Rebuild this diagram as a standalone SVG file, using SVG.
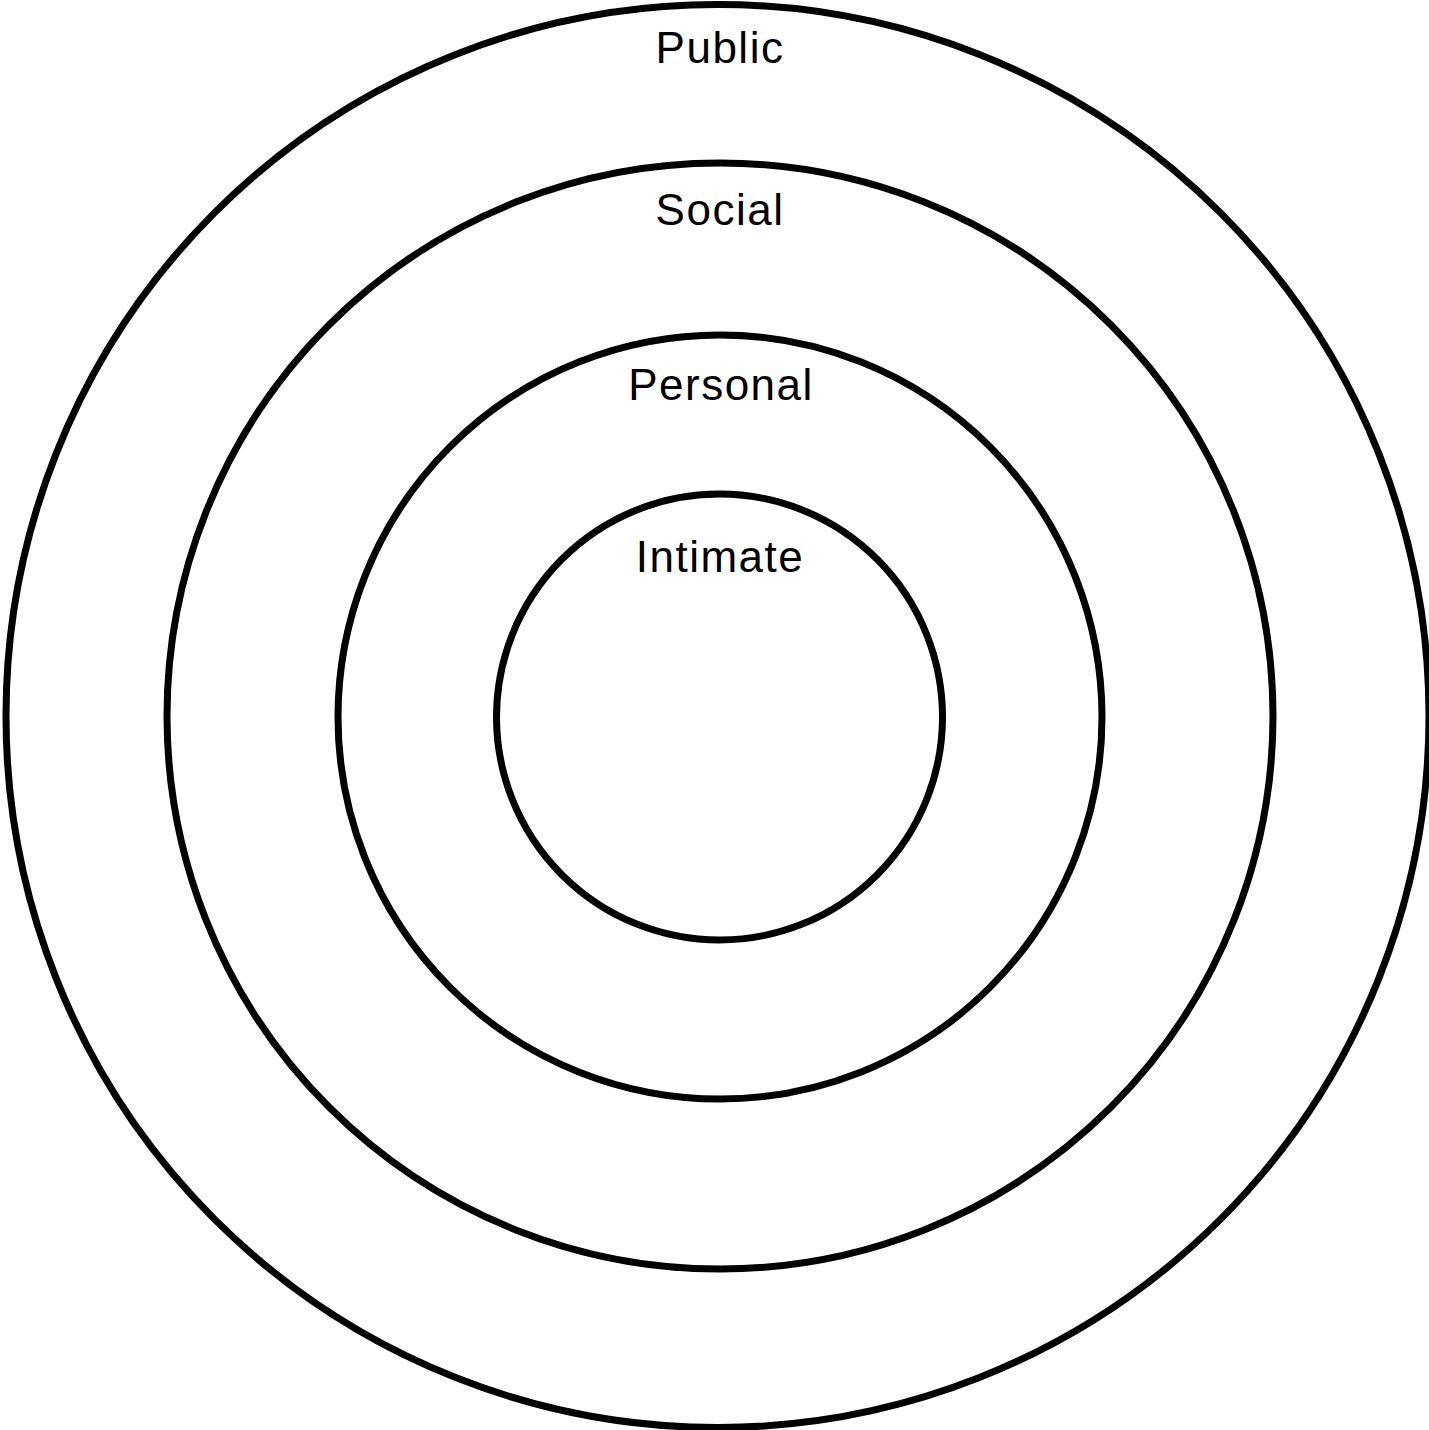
<svg xmlns="http://www.w3.org/2000/svg" width="1429" height="1430" viewBox="0 0 1429 1430">
<style>
.ring{fill:none;stroke:#000;stroke-width:7}
.lbl{font-family:"Liberation Sans",Arial,sans-serif;font-size:44px;letter-spacing:1.5px;fill:#000;text-anchor:middle}
</style>
<rect width="1429" height="1430" fill="#fff"/>
<g id="public"><circle class="ring" cx="717.5" cy="716" r="711.5"/><text class="lbl" x="720" y="63">Public</text></g>
<g id="social"><circle class="ring" cx="720" cy="716" r="553"/><text class="lbl" x="720" y="225">Social</text></g>
<g id="personal"><circle class="ring" cx="720" cy="717" r="382"/><text class="lbl" x="721" y="400">Personal</text></g>
<g id="intimate"><circle class="ring" cx="719.5" cy="717" r="223"/><text class="lbl" x="720" y="572">Intimate</text></g>
</svg>
